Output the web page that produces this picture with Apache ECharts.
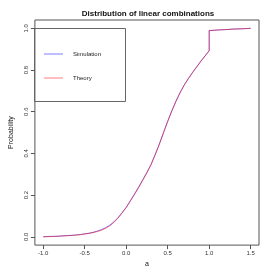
<!DOCTYPE html>
<html><head><meta charset="utf-8">
<script src="https://cdn.jsdelivr.net/npm/echarts@6/dist/echarts.min.js"></script>
<style>html,body{margin:0;padding:0;background:#fff}#c{width:273px;height:273px}</style>
</head><body><div id="c"></div>
<script>
const xTicks = [-1.0, -0.5, 0.0, 0.5, 1.0, 1.5];
const yTicks = [0.0, 0.2, 0.4, 0.6, 0.8, 1.0];
const aValues = [-1.00,-0.95,-0.90,-0.85,-0.80,-0.75,-0.70,-0.65,-0.60,-0.55,-0.50,-0.45,-0.40,-0.35,-0.30,-0.25,-0.20,-0.15,-0.10,-0.05,
  0.00,0.05,0.10,0.15,0.20,0.25,0.30,0.35,0.40,0.45,0.50,0.55,0.60,0.65,0.70,0.75,0.80,0.85,0.90,0.95,1.00,1.00,1.05,1.10,1.20,1.30,1.40,1.50];
const theoryValues = [0.000,0.0005,0.001,0.002,0.003,0.004,0.005,0.0065,0.008,0.010,0.013,0.016,0.020,0.025,0.031,0.040,0.052,0.068,0.089,0.113,
  0.140,0.171,0.203,0.236,0.271,0.307,0.346,0.393,0.444,0.499,0.553,0.603,0.650,0.691,0.728,0.759,0.787,0.815,0.842,0.867,0.892,0.990,0.991,0.992,0.994,0.996,0.998,1.000];
const simulationValues = [0.000,0.001,0.002,0.002,0.003,0.005,0.006,0.007,0.009,0.011,0.014,0.017,0.021,0.027,0.034,0.043,0.055,0.071,0.091,0.116,
  0.141,0.173,0.205,0.239,0.274,0.310,0.348,0.396,0.446,0.501,0.554,0.605,0.651,0.693,0.729,0.760,0.789,0.816,0.843,0.868,0.893,0.989,0.990,0.992,0.994,0.997,0.998,1.000];
const seriesNames = ['Simulation', 'Theory'];
const seriesColors = ['rgba(0,0,255,0.5)', 'rgba(255,0,0,0.5)'];

const F = 'Liberation Sans, Arial, sans-serif';
const chart = echarts.init(document.getElementById('c'), null, {renderer: 'canvas'});
chart.setOption({
  animation: false,
  backgroundColor: '#fff',
  title: {
    text: 'Distribution of linear combinations',
    left: 143, top: 5, textAlign: 'center',
    textStyle: {fontFamily: F, fontSize: 8, fontWeight: 'bold', color: '#111'}
  },
  graphic: [{
    type: 'rect', z: 0,
    shape: {x: 34.5, y: 28.5, width: 91, height: 73},
    style: {fill: 'none', stroke: '#666', lineWidth: 1}
  }],
  grid: {left: 26, top: 20, right: 14, bottom: 26, show: true, borderColor: '#555', borderWidth: 1, backgroundColor: 'transparent'},
  legend: {
    left: 35, top: 28, orient: 'vertical',
    data: seriesNames.map(n => ({name: n, icon: 'rect'})),
    padding: [22, 0, 20, 9],
    itemGap: 16, itemWidth: 19, itemHeight: 1,
    textStyle: {fontFamily: F, fontSize: 6, lineHeight: 8, color: '#222', padding: [0, 0, 0, 5]}
  },
  xAxis: {
    type: 'value', min: -1.1, max: 1.6,
    name: 'a', nameLocation: 'middle', nameGap: 13,
    nameTextStyle: {fontFamily: F, fontSize: 7, color: '#111'},
    axisLine: {show: false, onZero: false},
    axisTick: {show: true, customValues: xTicks, length: 4, lineStyle: {color: '#555'}},
    axisLabel: {customValues: xTicks, fontFamily: F, fontSize: 6, color: '#333', margin: 5,
      formatter: v => v.toFixed(1)},
    splitLine: {show: false}
  },
  yAxis: {
    type: 'value', min: -0.04, max: 1.04,
    name: 'Probability', nameLocation: 'middle', nameGap: 13,
    nameTextStyle: {fontFamily: F, fontSize: 7, color: '#111'},
    axisLine: {show: false, onZero: false},
    axisTick: {show: true, customValues: yTicks, length: 4, lineStyle: {color: '#555'}},
    axisLabel: {customValues: yTicks, rotate: 90, fontFamily: F, fontSize: 6, color: '#333', margin: 6,
      formatter: v => v.toFixed(1)},
    splitLine: {show: false}
  },
  series: seriesNames.map((n, k) => ({
    name: n, type: 'line', symbol: 'none', showSymbol: false,
    data: aValues.map((a, i) => [a, (k === 0 ? simulationValues : theoryValues)[i]]),
    lineStyle: {color: seriesColors[k], width: 1}, itemStyle: {color: seriesColors[k]}
  }))
});
</script></body></html>
